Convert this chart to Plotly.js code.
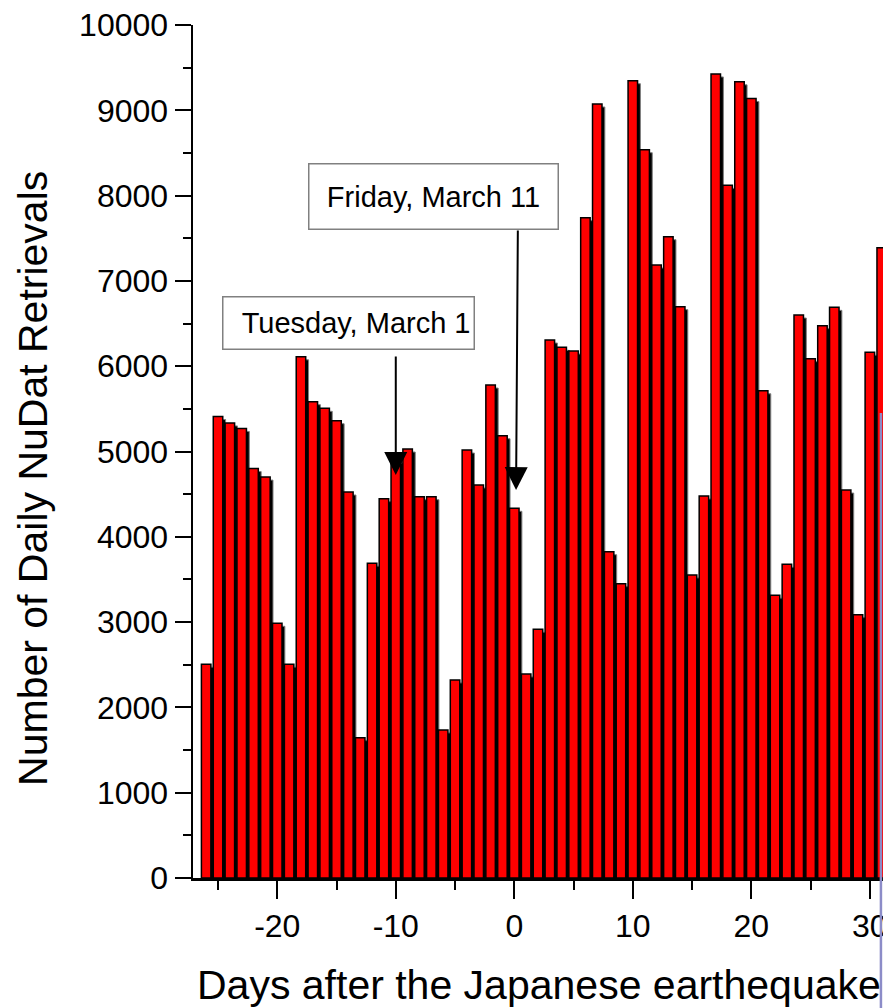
<!DOCTYPE html>
<html>
<head>
<meta charset="utf-8">
<script src="https://cdn.plot.ly/plotly-3.0.1.min.js"></script>
<style>
  html, body { margin: 0; padding: 0; background: #ffffff; overflow: hidden; }
  #chart { width: 883px; height: 1008px; }
</style>
</head>
<body>
<div id="chart"></div>
<script>
// Days relative to the earthquake (day 0 = Friday, March 11)
const days = [-26, -25, -24, -23, -22, -21, -20, -19, -18, -17, -16, -15, -14, -13,
              -12, -11, -10, -9, -8, -7, -6, -5, -4, -3, -2, -1, 0,
              1, 2, 3, 4, 5, 6, 7, 8, 9, 10, 11, 12, 13, 14, 15, 16, 17, 18, 19, 20,
              21, 22, 23, 24, 25, 26, 27, 28, 29, 30, 31];

// Daily NuDat retrievals
const retrievals = [2505, 5410, 5335, 5270, 4800, 4700, 2986, 2505, 6110, 5584, 5506, 5361, 4525, 1645,
                    3690, 4447, 4900, 5029, 4470, 4470, 1735, 2321, 5017, 4607, 5779, 5185, 4334,
                    2391, 2915, 6307, 6221, 6178, 7741, 9074, 3825, 3450, 9347, 8538, 7186, 7518, 6698,
                    3552, 4478, 9426, 8120, 9334, 9138, 5712, 3314, 3677, 6600, 6088, 6475, 6690, 4548,
                    3087, 6163, 7389];

// Axis ticks
const xTickVals = [-20, -10, 0, 10, 20, 30];
const xTickText = ['-20', '-10', '0', '10', '20', '30'];

// Callouts: label, box centre, arrow tail and arrow tip
const eventLabels = ['Tuesday, March 1', 'Friday, March 11'];
const eventBoxX = [-14.03, -6.79];
const eventBoxY = [6506, 7995];
const eventTailX = [-10, 0.3];
const eventTailY = [6131, 7608];
const eventTipX = [-10, 0.15];
const eventTipY = [4724, 4548];

const FONT = 'Arial, "Liberation Sans", sans-serif';

// Drop shadow behind each bar, then the red bars on top
const shadow = {
  type: 'bar', x: days, y: retrievals, base: -35,
  width: 0.8, offset: -0.16,
  marker: { color: '#000000', line: { color: '#808080', width: 1 } },
  hoverinfo: 'skip', showlegend: false
};
const bars = {
  type: 'bar', x: days, y: retrievals,
  width: 0.8, offset: -0.4,
  marker: { color: '#ff0000', line: { color: '#000000', width: 1.5 } },
  showlegend: false
};

const annotations = [];
eventLabels.forEach((label, i) => {
  annotations.push({
    xref: 'x', yref: 'y', x: eventBoxX[i], y: eventBoxY[i],
    xanchor: 'center', yanchor: 'middle',
    text: label, showarrow: false,
    font: { family: FONT, size: 29, color: '#000000' },
    bgcolor: '#ffffff', bordercolor: '#808080', borderwidth: 1.5,
    borderpad: 3,
    width: i === 0 ? 244 : 242, height: i === 0 ? 45 : 58,
    align: i === 0 ? 'right' : 'center', valign: 'middle'
  });
  annotations.push({
    xref: 'x', yref: 'y', x: eventTipX[i], y: eventTipY[i],
    axref: 'x', ayref: 'y', ax: eventTailX[i], ay: eventTailY[i],
    text: '', showarrow: true,
    arrowhead: 2, arrowsize: 2.3, arrowwidth: 2, arrowcolor: '#000000',
    standoff: 0, startstandoff: 0
  });
});

// Axis titles
annotations.push({
  xref: 'paper', yref: 'paper', x: 0.003, y: -0.1254,
  xanchor: 'left', yanchor: 'middle', showarrow: false,
  text: 'Days after the Japanese earthequake',
  font: { family: FONT, size: 41, color: '#000000' }
});
annotations.push({
  xref: 'paper', yref: 'paper', x: -0.2319, y: 0.469,
  xanchor: 'center', yanchor: 'middle', showarrow: false, textangle: -90,
  text: 'Number of Daily NuDat Retrievals',
  font: { family: FONT, size: 41, color: '#000000' }
});

const layout = {
  width: 883, height: 1008,
  margin: { l: 193, r: 0, t: 25, b: 130, pad: 0 },
  paper_bgcolor: '#ffffff', plot_bgcolor: '#ffffff',
  barmode: 'overlay',
  font: { family: FONT, color: '#000000' },
  xaxis: {
    range: [-27.11, 31.11], fixedrange: true,
    showline: true, linecolor: '#000000', linewidth: 2.5,
    showgrid: false, zeroline: false,
    tickmode: 'array', tickvals: xTickVals, ticktext: xTickText,
    ticklabeloverflow: 'allow',
    ticks: 'outside', ticklen: 18, tickwidth: 2, tickcolor: '#000000',
    tickfont: { family: FONT, size: 32, color: '#000000' },
    minor: { tickmode: 'linear', tick0: 0, dtick: 5, ticks: 'outside', ticklen: 9, tickwidth: 2, tickcolor: '#000000' }
  },
  yaxis: {
    range: [0, 10000], fixedrange: true,
    showline: true, linecolor: '#000000', linewidth: 2.5,
    showgrid: false, zeroline: false,
    tickmode: 'linear', tick0: 0, dtick: 1000, tickformat: 'd',
    ticklabeloverflow: 'allow',
    ticks: 'outside', ticklen: 16, tickwidth: 2, tickcolor: '#000000',
    tickfont: { family: FONT, size: 32, color: '#000000' },
    minor: { tickmode: 'linear', tick0: 0, dtick: 500, ticks: 'outside', ticklen: 8, tickwidth: 2, tickcolor: '#000000' }
  },
  annotations: annotations,
  shapes: [{
    type: 'line', xref: 'paper', yref: 'paper', layer: 'above',
    x0: 0.997, x1: 0.997, y0: 0.545, y1: -0.16,
    line: { color: '#8c8cc8', width: 2.5 }
  }]
};

Plotly.newPlot('chart', [shadow, bars], layout, { displayModeBar: false, staticPlot: true });
</script>
</body>
</html>
